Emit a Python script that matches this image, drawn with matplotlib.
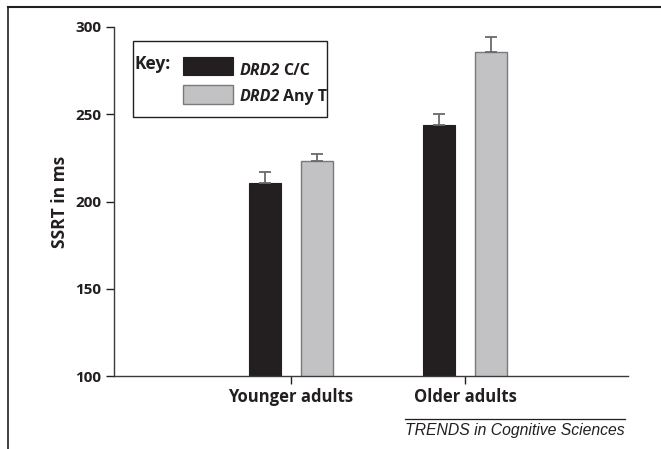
import matplotlib
matplotlib.use("Agg")
import matplotlib.pyplot as plt
from matplotlib.lines import Line2D
from matplotlib.patches import Rectangle
import numpy as np

# data
groups = ["Younger adults", "Older adults"]
series = ["C/C", "Any T"]
cc_means = [210.5, 243.8]
cc_err = [6.3, 6.5]
anyt_means = [223.2, 285.8]
anyt_err = [4.0, 8.5]
yticks = [100, 150, 200, 250, 300]

BLACK = "#231f20"
GREY = "#c2c2c4"
EDGE = "#7a7a7a"
FONT = "Open Sans"

plt.rcParams["font.family"] = [FONT, "DejaVu Sans"]

W, H = 661, 449
fig = plt.figure(figsize=(W / 100, H / 100), dpi=100)


def fx(px):
    return px / W


def fy(py):
    return 1 - py / H


ax = fig.add_axes([fx(114), fy(376), fx(628) - fx(114), fy(27) - fy(376)])

x = np.arange(len(groups))
width = 0.183
off = 0.149
ekw = dict(ecolor="#6a6a6a", elinewidth=1.3, capsize=4, capthick=1.3)
ax.bar(x - off, cc_means, width, color=BLACK, edgecolor=BLACK, linewidth=0.8,
       yerr=[np.zeros(2), cc_err], error_kw=ekw, zorder=2)
ax.bar(x + off, anyt_means, width, color=GREY, edgecolor=EDGE, linewidth=1.0,
       yerr=[np.zeros(2), anyt_err], error_kw=ekw, zorder=2)

ax.set_xlim(-1.01, 1.93)
ax.set_ylim(100, 300)
ax.set_yticks(yticks)
ax.set_xticks(x)
ax.set_xticklabels(groups, fontsize=12, fontweight="bold", color="#231f20")
ax.tick_params(axis="y", labelsize=11, length=6, width=1.0, pad=3, colors="#231f20")
ax.tick_params(axis="x", length=6, width=1.0, pad=3, colors="#231f20")
for lab in ax.get_yticklabels():
    lab.set_fontweight("bold")
ax.set_ylabel("SSRT in ms", fontsize=12.5, fontweight="bold", color="#231f20", labelpad=5)
for s in ["top", "right"]:
    ax.spines[s].set_visible(False)
for s in ["left", "bottom"]:
    ax.spines[s].set_linewidth(1.0)
    ax.spines[s].set_color("#3a3a3a")

# key box
fig.add_artist(Rectangle((fx(133), fy(117)), fx(327) - fx(133), fy(41) - fy(117),
                         transform=fig.transFigure, facecolor="white",
                         edgecolor="#231f20", linewidth=1.0))
fig.text(fx(135), fy(69), "Key:", fontsize=12.5, fontweight="bold", color="#231f20",
         va="baseline", ha="left")
fig.add_artist(Rectangle((fx(183), fy(75)), fx(233) - fx(183), fy(57) - fy(75),
                         transform=fig.transFigure, facecolor=BLACK, edgecolor=BLACK,
                         linewidth=0.8))
fig.add_artist(Rectangle((fx(183), fy(104)), fx(233) - fx(183), fy(85) - fy(104),
                         transform=fig.transFigure, facecolor=GREY, edgecolor=EDGE,
                         linewidth=1.0))
renderer = fig.canvas.get_renderer()
for lbl, py in zip(series, [75, 101]):
    t1 = fig.text(fx(240), fy(py), "DRD2", fontsize=11.5, fontweight="bold",
                  style="italic", color="#231f20", va="baseline", ha="left")
    x1 = t1.get_window_extent(renderer).x1
    fig.text(x1 / W + fx(3), fy(py), lbl, fontsize=11.5, fontweight="bold",
             color="#231f20", va="baseline", ha="left")

# outer frame
fig.add_artist(Line2D([fx(8), 1], [fy(7), fy(7)], color="#231f20", linewidth=1.5))
fig.add_artist(Line2D([fx(8), fx(8)], [fy(7), 0], color="#231f20", linewidth=1.2))

# source line
fig.add_artist(Line2D([fx(405), fx(625)], [fy(419), fy(419)], color="#231f20",
                      linewidth=0.9))
fig.text(fx(625), fy(435), "TRENDS in Cognitive Sciences", fontsize=11.3,
         family="Liberation Sans", style="italic", color="#231f20",
         ha="right", va="baseline")

fig.savefig("out.png", dpi=100)
